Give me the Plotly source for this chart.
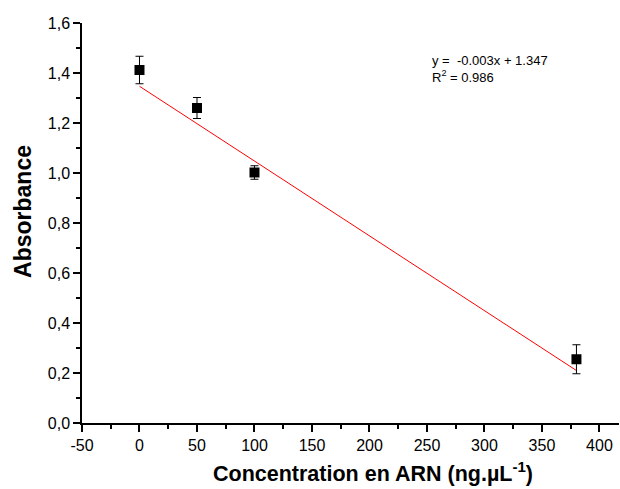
import plotly.graph_objects as go

# Data
conc = [0, 50, 100, 380]
absorbance = [1.412, 1.260, 1.002, 0.255]
abs_err = [0.055, 0.042, 0.027, 0.058]
fit_x = [0, 380]
fit_y = [1.347, 0.210]
x_ticks = [-50, 0, 50, 100, 150, 200, 250, 300, 350, 400]
y_ticks = [0.0, 0.2, 0.4, 0.6, 0.8, 1.0, 1.2, 1.4, 1.6]

FONT = "Liberation Sans, Arial, sans-serif"

fig = go.Figure()
fig.add_trace(go.Scatter(
    x=fit_x, y=fit_y, mode="lines",
    line=dict(color="#ff0000", width=1), showlegend=False, hoverinfo="skip"))
fig.add_trace(go.Scatter(
    x=conc, y=absorbance, mode="markers",
    marker=dict(symbol="square", size=10, color="black"),
    error_y=dict(type="data", array=abs_err, visible=True,
                 color="black", thickness=1, width=4),
    showlegend=False))

fig.add_annotation(x=253, y=1.49, xref="x", yref="y", xanchor="left", yanchor="top",
                   text="y =  -0.003x + 1.347<br>R<sup>2</sup> = 0.986",
                   showarrow=False, align="left",
                   font=dict(family=FONT, size=13, color="black"))

# axis titles (placed as in the reference, whose x axis runs past the right edge)
fig.add_annotation(x=0.542, y=-0.122, xref="paper", yref="paper",
                   xanchor="center", yanchor="middle", showarrow=False,
                   text="<b>Concentration en ARN (ng.µL<sup>-1</sup>)</b>",
                   font=dict(family=FONT, size=21.5, color="black"))
fig.add_annotation(x=-0.11, y=0.53, xref="paper", yref="paper",
                   xanchor="center", yanchor="middle", showarrow=False, textangle=-90,
                   text="<b>Absorbance</b>",
                   font=dict(family=FONT, size=23, color="black"))

fig.update_layout(
    width=620, height=489,
    margin=dict(l=82, r=1, t=23, b=66),
    paper_bgcolor="white", plot_bgcolor="white",
    separators=", ",
    font=dict(family=FONT, color="black"),
    xaxis=dict(
        range=[-50, 417], tickvals=x_ticks, ticktext=[str(v) for v in x_ticks],
        automargin=False, ticklabeloverflow="allow",
        showgrid=False, zeroline=False, showline=True, linecolor="black", linewidth=1.5,
        ticks="outside", ticklen=7, tickwidth=1.5, tickcolor="black",
        tickfont=dict(size=16, family=FONT),
        minor=dict(dtick=25, tick0=-25, ticks="outside", ticklen=4, tickwidth=1.5, tickcolor="black"),
    ),
    yaxis=dict(
        range=[0, 1.6], tickvals=y_ticks, tickformat=".1f",
        automargin=False, ticklabeloverflow="allow",
        showgrid=False, zeroline=False, showline=True, linecolor="black", linewidth=1.5,
        ticks="outside", ticklen=7, tickwidth=1.5, tickcolor="black",
        tickfont=dict(size=16, family=FONT),
        minor=dict(dtick=0.1, tick0=0, ticks="outside", ticklen=4, tickwidth=1.5, tickcolor="black"),
    ),
)

fig.write_html("out.html", config={"displayModeBar": False},
               post_script="document.body.style.margin='0';document.body.style.overflow='hidden';")
